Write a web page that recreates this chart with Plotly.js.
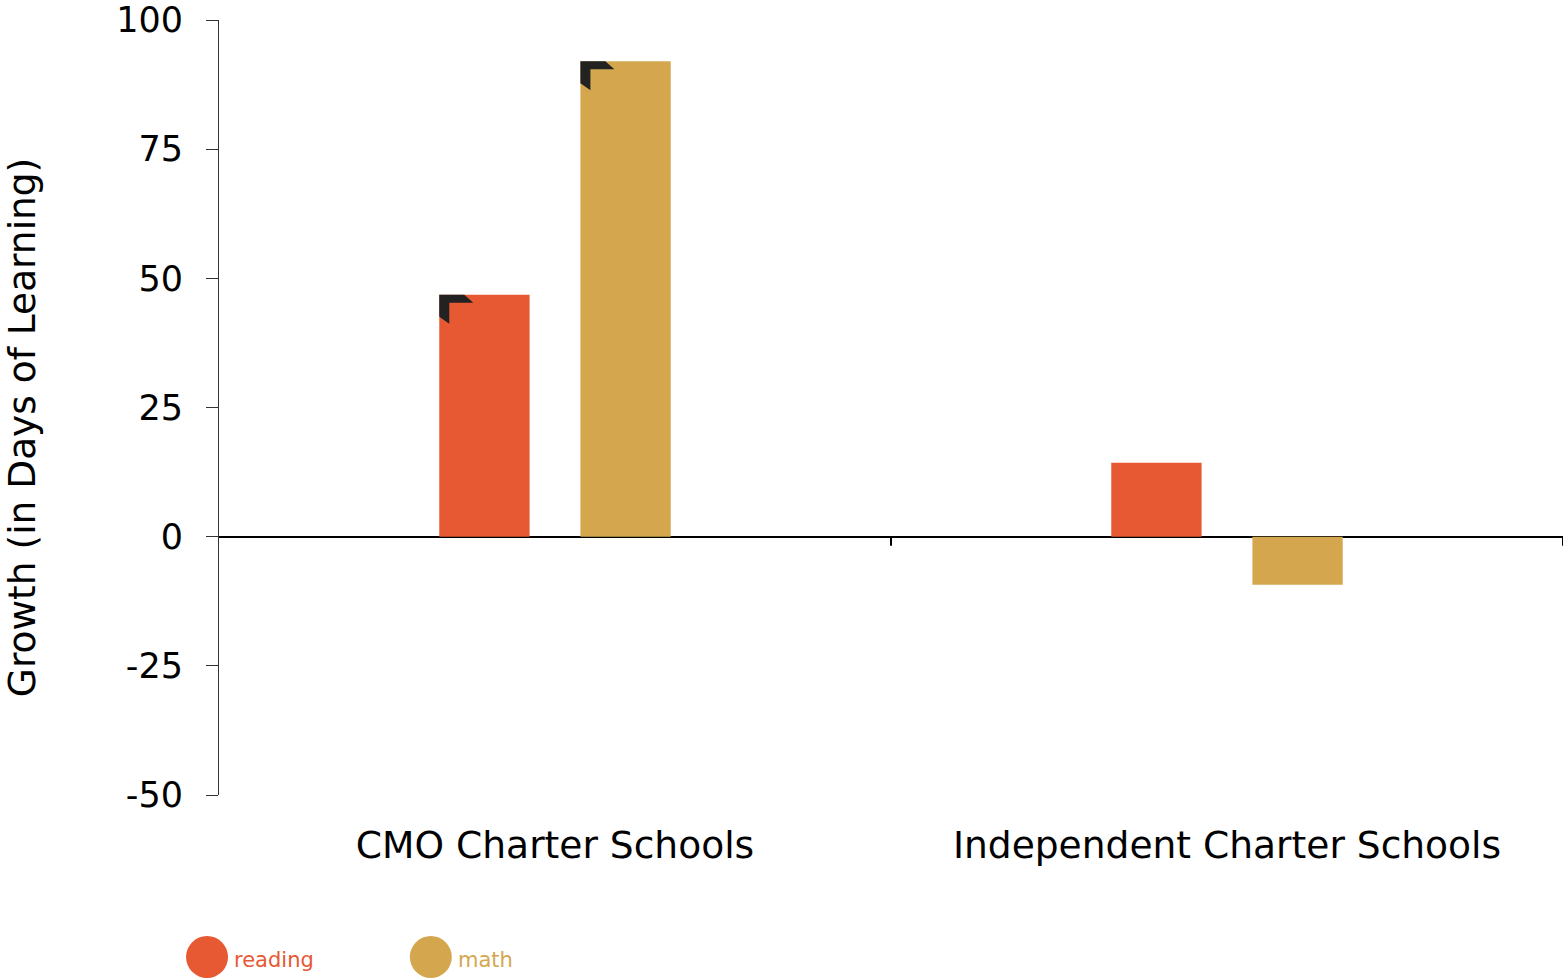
<!DOCTYPE html>
<html>
<head>
<meta charset="utf-8">
<script src="https://cdn.plot.ly/plotly-3.0.1.min.js"></script>
<style>html,body{margin:0;padding:0;background:#fff;}#chart{width:1564px;height:980px;}</style>
</head>
<body>
<div id="chart"></div>
<script>
// ---- data ----
var categories = ["CMO Charter Schools", "Independent Charter Schools"];
var seriesNames = ["reading", "math"];
var readingValues = [46.8, 14.3];
var mathValues = [92, -9.3];
var readingSignificant = [true, false];
var mathSignificant = [true, false];
var yTickValues = [-50, -25, 0, 25, 50, 75, 100];
var yTickLabels = ["-50", "-25", "0", "25", "50", "75", "100"];
var yTitle = "Growth (in Days of Learning)";

// ---- style ----
var colors = {reading: "#E65932", math: "#D4A74F"};
var FONT = "DejaVu Sans, Verdana, sans-serif";
var BARGAP = 0.58, BARGROUPGAP = 0.36;

var traces = [
  {type: "bar", name: seriesNames[0], x: categories, y: readingValues,
   marker: {color: colors.reading}, showlegend: false, hoverinfo: "x+y"},
  {type: "bar", name: seriesNames[1], x: categories, y: mathValues,
   marker: {color: colors.math}, showlegend: false, hoverinfo: "x+y"}
];

// bar geometry (in category units) derived from the gap settings
var nSeries = 2;
var groupW = 1 - BARGAP;
var slot = groupW / nSeries;
var barW = slot * (1 - BARGROUPGAP);
function barLeft(s) { return -groupW / 2 + s * slot + (slot - barW) / 2; }

var shapes = [];
// significance flags at the top-left corner of bars
var flagPath = "M0,0 L25,0 L34,-8 L10,-8 L10,-29 L0,-22 Z";
[readingSignificant, mathSignificant].forEach(function (sig, s) {
  var vals = s === 0 ? readingValues : mathValues;
  sig.forEach(function (flag, i) {
    if (!flag) return;
    shapes.push({type: "path", xref: "x", yref: "y",
      xsizemode: "pixel", ysizemode: "pixel",
      xanchor: i + barLeft(s), yanchor: vals[i],
      path: flagPath, fillcolor: "#222222", line: {width: 0}, layer: "above"});
  });
});
// category divider ticks on the zero line
for (var k = 0; k < categories.length; k++) {
  shapes.push({type: "line", xref: "x", yref: "y", ysizemode: "pixel", yanchor: 0,
    x0: k + 0.5, x1: k + 0.5, y0: 0, y1: -9, line: {color: "#000", width: 2}, layer: "above"});
}

// legend (circles + coloured labels)
var annotations = [];
var legendX = [-0.0089, 0.1576];
var legendY = -0.209;
seriesNames.forEach(function (nm, s) {
  shapes.push({type: "circle", xref: "paper", yref: "paper",
    xsizemode: "pixel", ysizemode: "pixel", xanchor: legendX[s], yanchor: legendY,
    x0: -21, x1: 21, y0: -21, y1: 21, fillcolor: colors[nm], line: {width: 0}});
  annotations.push({xref: "paper", yref: "paper", x: legendX[s], y: legendY,
    xshift: 25, yshift: -3, xanchor: "left", yanchor: "middle", showarrow: false,
    text: nm, font: {family: FONT, size: 21, color: colors[nm]}});
});
// y-axis title
annotations.push({xref: "paper", yref: "paper", x: -0.1465, y: 0.4735,
  xanchor: "center", yanchor: "middle", textangle: -90, showarrow: false, borderpad: 0,
  text: yTitle, font: {family: FONT, size: 37.5, color: "#000"}});

var layout = {
  width: 1564, height: 980,
  margin: {l: 219, r: 1, t: 20, b: 185},
  paper_bgcolor: "#fff", plot_bgcolor: "#fff",
  barmode: "group", bargap: BARGAP, bargroupgap: BARGROUPGAP,
  showlegend: false,
  font: {family: FONT, color: "#000"},
  xaxis: {type: "category", range: [-0.5, 1.5], showgrid: false, showline: false,
    ticks: "", ticklabelstandoff: 24, tickfont: {family: FONT, size: 37.6, color: "#000"},
    fixedrange: true},
  yaxis: {range: [-50, 100], tickvals: yTickValues, ticktext: yTickLabels, showgrid: false,
    showline: true, linecolor: "#333", linewidth: 1, mirror: false,
    ticks: "outside", ticklen: 12, tickcolor: "#333", tickwidth: 1,
    ticklabelstandoff: 16,
    zeroline: true, zerolinecolor: "#000", zerolinewidth: 2,
    tickfont: {family: FONT, size: 35, color: "#000"},
    fixedrange: true},
  shapes: shapes,
  annotations: annotations
};

Plotly.newPlot("chart", traces, layout, {displayModeBar: false, staticPlot: true});
</script>
</body>
</html>
